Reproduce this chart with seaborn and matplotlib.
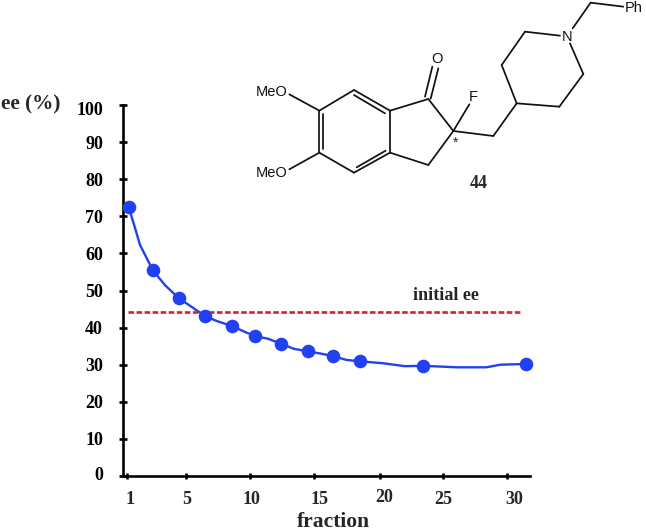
import matplotlib
matplotlib.use('Agg')
import matplotlib.pyplot as plt
import matplotlib.transforms as mtrans
import seaborn as sns

# measured points (big dots)
fraction_pts = [0.56, 2.45, 4.47, 6.47, 8.62, 10.4, 12.4, 14.5, 16.5, 18.6, 23.5, 31.5]
ee_pts = [72.5, 55.4, 47.9, 43.2, 40.4, 37.7, 35.7, 33.6, 32.3, 30.9, 29.7, 30.2]

# curve, dots plus the bends in between
fraction_curve = [0.56, 1.0, 1.44, 2.45, 3.4, 4.47, 5.46, 6.47, 7.4, 8.62, 9.5, 10.4, 11.4, 12.4,
                  13.4, 14.5, 15.5, 16.5, 17.5, 18.6, 20.35, 22.06, 23.5, 26.1, 28.4, 29.5, 31.5]
ee_curve = [72.5, 67.5, 62.3, 55.4, 51.4, 47.9, 45.6, 43.2, 41.8, 40.4, 39.0, 37.7, 37.0, 35.7,
            34.3, 33.6, 33.0, 32.3, 31.3, 30.9, 30.4, 29.6, 29.7, 29.3, 29.3, 30.0, 30.2]

initial_ee = 44.2
initial_x = [0.5, 31.2]

y_ticks = list(range(0, 101, 10))
# 0 sits a little high and 100 a little low in the original
y_label_dy = [3, 0, 0, 0, 0, 0, 0, 0, 0, 0, -3]
x_ticks = [0.43, 5.0, 10.0, 15.0, 20.1, 25.0, 30.0]
x_labels = ['1', '5', '10', '15', '20', '25', '30']
# the hand placed labels in the original sit a bit off their ticks
x_label_dx = [3, 1, 2, 5, 4, 1, 7]
x_label_dy = [0, 0, 0, 0, 2, 1, 1]

sns.set_style('white')
plt.rcParams['font.family'] = ['Liberation Serif', 'DejaVu Serif']
plt.rcParams['font.weight'] = 'bold'

W, H = 646, 532
fig = plt.figure(figsize=(W / 100, H / 100), dpi=100)
ax = fig.add_axes([122.5 / W, (H - 476) / H, (530 - 122.5) / W, (476 - 105) / H])

blue = '#2140F2'
sns.lineplot(x=fraction_curve, y=ee_curve, sort=False, estimator=None, color=blue, lw=1.7, ax=ax)
sns.lineplot(x=initial_x, y=[initial_ee, initial_ee], color='#DB1F2E', lw=1.9, ax=ax, linestyle=(0, (2.1, 0.95)))
sns.scatterplot(x=fraction_pts, y=ee_pts, color=blue, s=96, linewidth=0, ax=ax, zorder=5, clip_on=False)

ax.set_xlim(0.08, 31.8)
ax.set_ylim(0, 100)
sns.despine(ax=ax)
for side in ['left', 'bottom']:
    ax.spines[side].set_linewidth(1.9)
    ax.spines[side].set_color('black')

ax.set_yticks(y_ticks)
ax.set_xticks(x_ticks)
ax.set_xticklabels([])
ax.tick_params(axis='y', which='major', direction='inout', length=6, width=1.9, left=True,
               labelsize=13, pad=11, colors='black')
ax.tick_params(axis='x', which='major', direction='inout', length=5, width=1.9, bottom=True, colors='black')
for lab, dy in zip(ax.get_yticklabels(), y_label_dy):
    lab.set_fontweight('bold')
    lab.set_transform(lab.get_transform() + mtrans.ScaledTranslation(0, dy * 0.72 / 72, fig.dpi_scale_trans))

for t, lab, dx, dy in zip(x_ticks, x_labels, x_label_dx, x_label_dy):
    ax.annotate(lab, (t, 0), xytext=(dx * 0.72, (-24 + dy) * 0.72), textcoords='offset points',
                ha='center', va='center', fontsize=13, fontweight='bold', annotation_clip=False)

# overlay in pixel units for the free text and the structure drawing
top = fig.add_axes([0, 0, 1, 1])
top.set_xlim(0, W)
top.set_ylim(H, 0)
top.axis('off')
top.patch.set_alpha(0)

top.text(31, 104, 'ee (%)', ha='center', va='center', fontsize=15.3, fontweight='bold')
top.text(333, 522, 'fraction', ha='center', va='center', fontsize=15.5, fontweight='bold')
top.text(445.5, 296, 'initial ee', ha='center', va='center', fontsize=13, fontweight='bold')
top.text(479, 184, '44', ha='center', va='center', fontsize=13, fontweight='bold')

# bonds as (x0, y0, x1, y1), measured on a 3x crop starting at x=220
bonds = [
    (298, 332, 298, 458), (298, 458, 402, 518), (402, 518, 510, 458), (510, 458, 510, 332),
    (510, 332, 402, 270), (402, 270, 298, 332), (308, 342, 308, 448), (402, 285, 495, 340),
    (410, 502, 497, 452), (298, 332, 208, 283), (298, 458, 208, 508), (510, 332, 625, 297),
    (625, 297, 700, 393), (510, 458, 625, 495), (625, 495, 700, 393), (615, 290, 637, 200),
    (632, 296, 655, 205), (700, 393, 748, 313), (700, 393, 820, 408), (820, 408, 890, 310),
    (890, 310, 845, 195), (845, 195, 915, 95), (915, 95, 1020, 107), (1050, 130, 1090, 222),
    (1090, 222, 1018, 320), (1018, 320, 890, 310), (1058, 85, 1112, 8), (1112, 8, 1210, 20),
]
for x0, y0, x1, y1 in bonds:
    top.plot([220 + x0 / 3, 220 + x1 / 3], [y0 / 3, y1 / 3], color='#111111', lw=1.25,
             solid_capstyle='round')

mol_labels = [('MeO', 272, 92), ('MeO', 272, 173), ('O', 437, 59), ('F', 473, 97), ('N', 567, 37), ('Ph', 634, 8)]
for s, x, y in mol_labels:
    top.text(x, y, s, ha='center', va='center', fontsize=10.5, fontweight='normal', family='Liberation Sans',
             color='#111111')
top.text(456, 143, '*', ha='center', va='center', fontsize=10, fontweight='normal', family='Liberation Sans')

fig.savefig('out.png', dpi=100)
